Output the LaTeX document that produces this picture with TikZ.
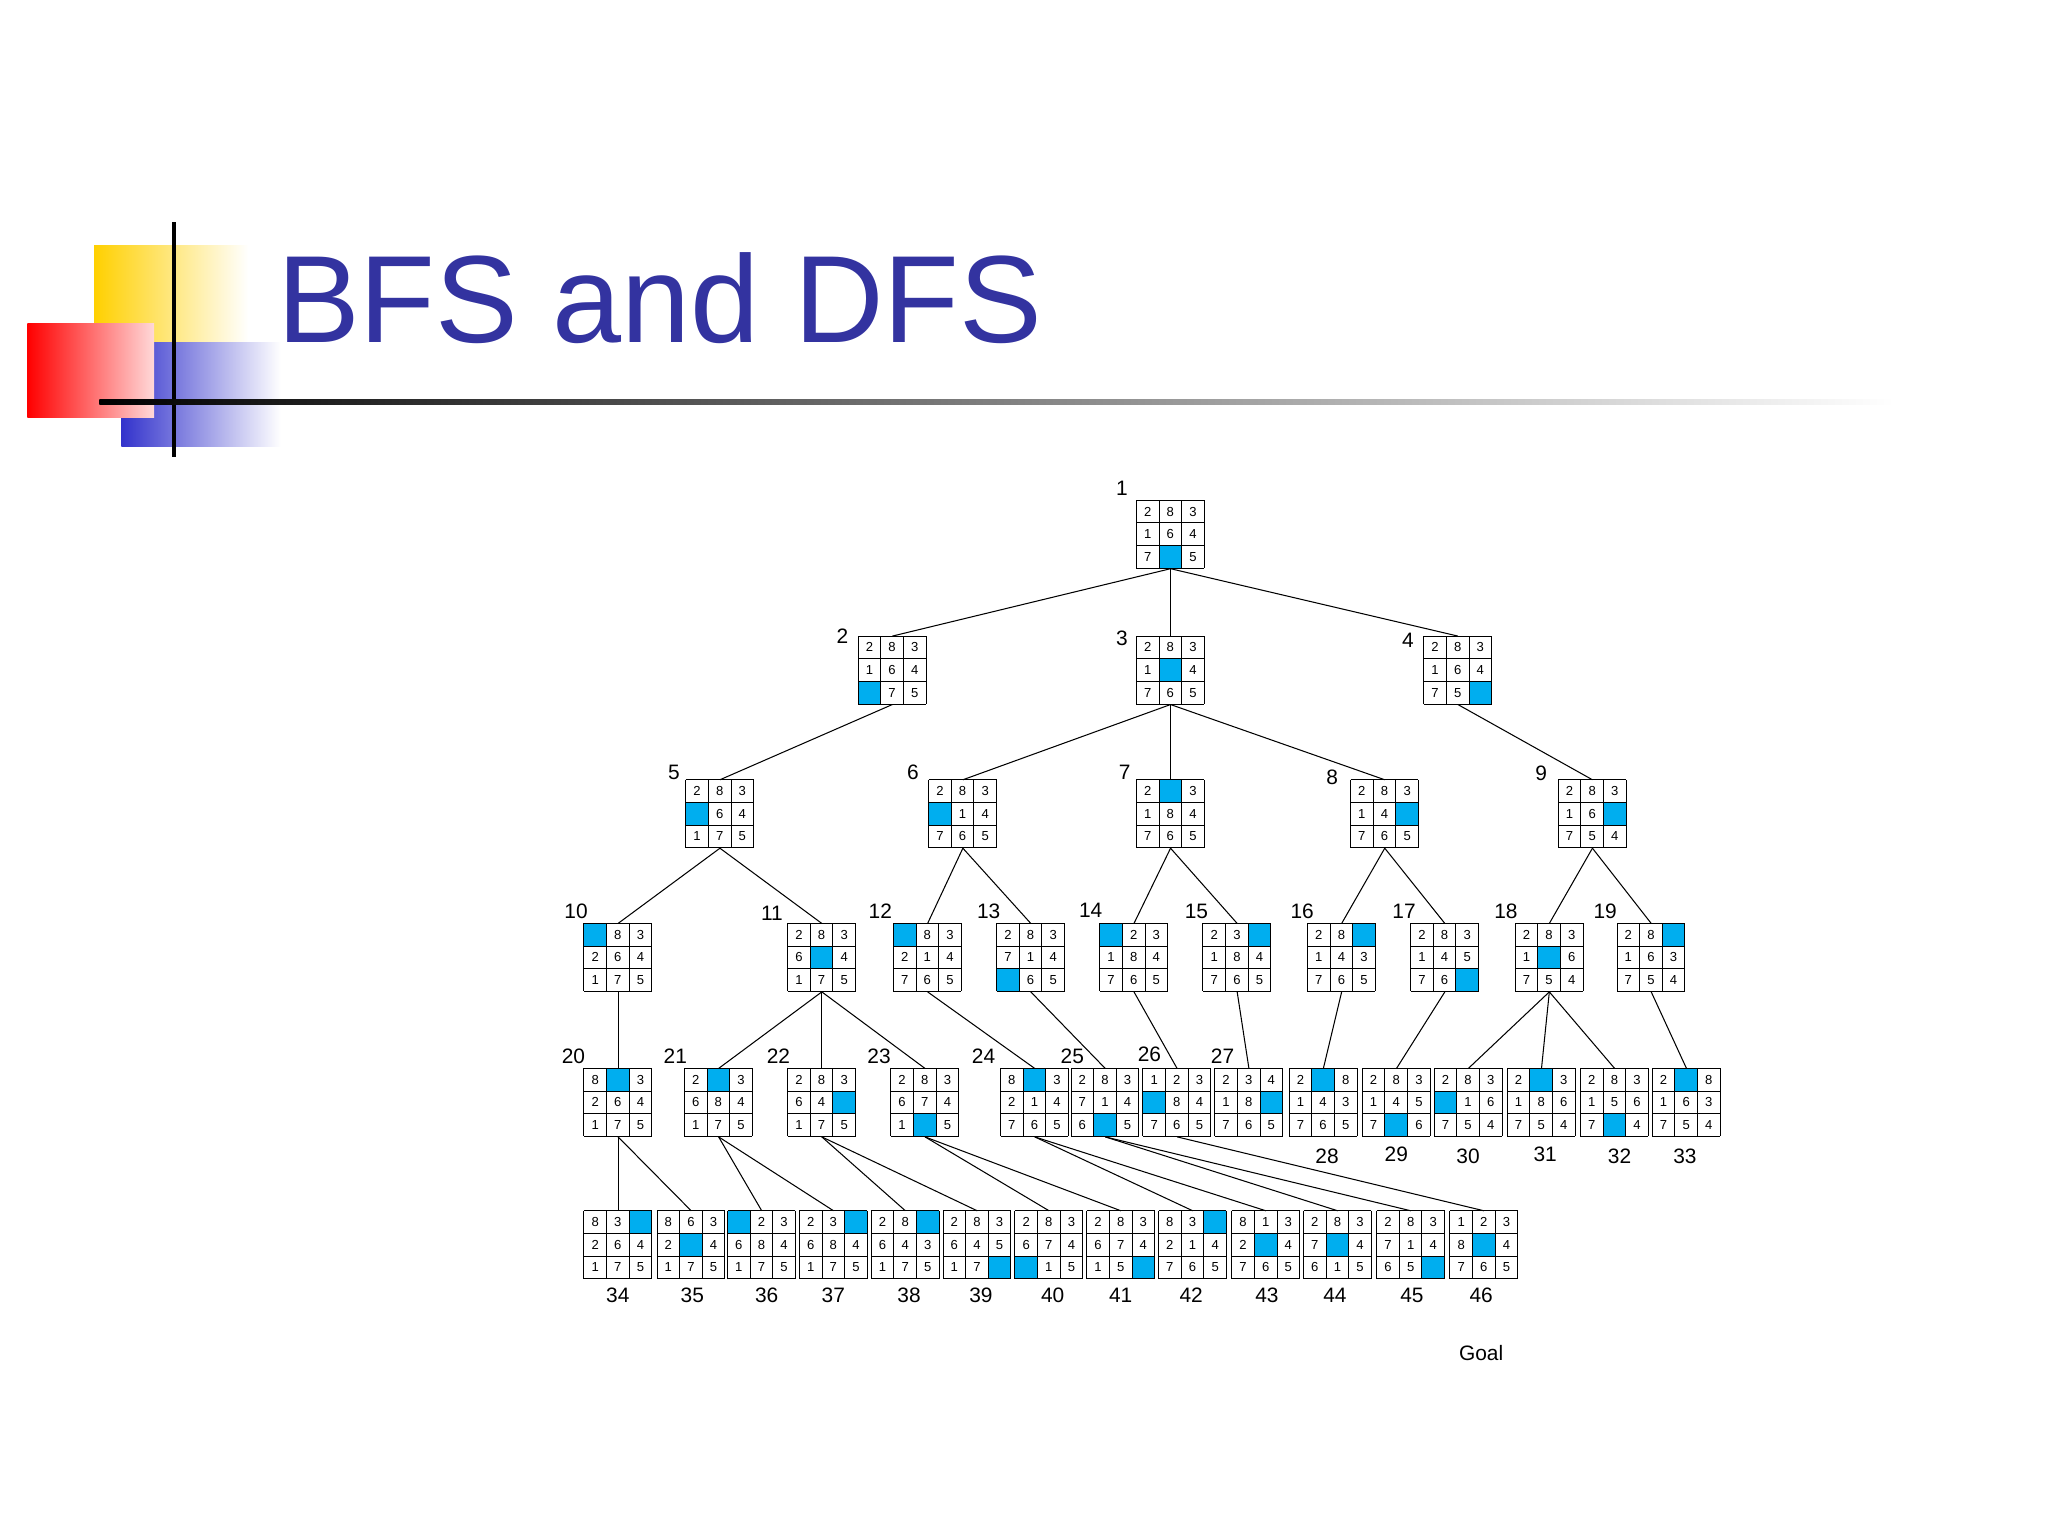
\documentclass[tikz,border=0pt]{standalone}
\usepackage{fontspec}
\setmainfont{Liberation Sans}
\definecolor{tileblue}{RGB}{0,174,239}
\definecolor{titleblue}{RGB}{51,51,160}
\definecolor{sqyellow}{RGB}{255,208,0}
\definecolor{sqblue}{RGB}{51,51,204}
\newcommand\bd[4]{%
 \node[minimum width=52pt,minimum height=52pt,inner sep=0pt,anchor=north west] (#1) at (#2,#3) {};
 \foreach \v [count=\i from 0] in {#4}{%
   \pgfmathtruncatemacro\cc{mod(\i,3)}\pgfmathtruncatemacro\rr{int(\i/3)}%
   \ifnum\v=0 \fill[tileblue] (#2+\cc*17.33,#3+\rr*17.33) rectangle ++(17.33,17.33);%
   \else \node[dig] at (#2+\cc*17.33+8.67,#3+\rr*17.33+8.67) {\v};\fi
 }
 \foreach \k in {0,1,2,3}{\draw[line width=0.7pt] (#2+\k*17.33,#3) -- ++(0,52); \draw[line width=0.7pt] (#2,#3+\k*17.33) -- ++(52,0);}
}
\begin{document}
\begin{tikzpicture}[x=1pt,y=-1pt,
  edge/.style={line width=0.8pt},
  lab/.style={font=\fontsize{16}{16}\selectfont,inner sep=0pt},
  dig/.style={font=\fontsize{10}{10}\selectfont,inner sep=0pt}]
\useasboundingbox (0,0) rectangle (1568,1176);
\fill[white] (0,0) rectangle (1568,1176);
% decoration
\shade[left color=sqyellow,right color=white] (72,188) rectangle (190,305);
\shade[left color=sqblue,right color=white] (93,262) rectangle (215,342);
\shade[left color=red,right color=red!15] (21,248) rectangle (118,320);
\draw[line width=3pt] (133,170) -- (133,350);
\shade[left color=black,middle color=gray,right color=white] (76,306) rectangle (1450,310);
\node[anchor=base west,text=titleblue,font=\fontsize{95}{100}\selectfont,inner sep=0pt] (title) at (212,262) {BFS and DFS};
% boards
\bd{n1}{870}{383}{2,8,3,1,6,4,7,0,5}
\bd{n2}{657}{487}{2,8,3,1,6,4,0,7,5}
\bd{n3}{870}{487}{2,8,3,1,0,4,7,6,5}
\bd{n4}{1090}{487}{2,8,3,1,6,4,7,5,0}
\bd{n5}{525}{597}{2,8,3,0,6,4,1,7,5}
\bd{n6}{711}{597}{2,8,3,0,1,4,7,6,5}
\bd{n7}{870}{597}{2,0,3,1,8,4,7,6,5}
\bd{n8}{1034}{597}{2,8,3,1,4,0,7,6,5}
\bd{n9}{1193}{597}{2,8,3,1,6,0,7,5,4}
\bd{n10}{447}{707}{0,8,3,2,6,4,1,7,5}
\bd{n11}{603}{707}{2,8,3,6,0,4,1,7,5}
\bd{n12}{684}{707}{0,8,3,2,1,4,7,6,5}
\bd{n13}{763}{707}{2,8,3,7,1,4,0,6,5}
\bd{n14}{842}{707}{0,2,3,1,8,4,7,6,5}
\bd{n15}{921}{707}{2,3,0,1,8,4,7,6,5}
\bd{n16}{1001}{707}{2,8,0,1,4,3,7,6,5}
\bd{n17}{1080}{707}{2,8,3,1,4,5,7,6,0}
\bd{n18}{1160}{707}{2,8,3,1,0,6,7,5,4}
\bd{n19}{1238}{707}{2,8,0,1,6,3,7,5,4}
\bd{n20}{447}{818}{8,0,3,2,6,4,1,7,5}
\bd{n21}{524}{818}{2,0,3,6,8,4,1,7,5}
\bd{n22}{603}{818}{2,8,3,6,4,0,1,7,5}
\bd{n23}{682}{818}{2,8,3,6,7,4,1,0,5}
\bd{n24}{766}{818}{8,0,3,2,1,4,7,6,5}
\bd{n25}{820}{818}{2,8,3,7,1,4,6,0,5}
\bd{n26}{875}{818}{1,2,3,0,8,4,7,6,5}
\bd{n27}{930}{818}{2,3,4,1,8,0,7,6,5}
\bd{n28}{987}{818}{2,0,8,1,4,3,7,6,5}
\bd{n29}{1043}{818}{2,8,3,1,4,5,7,0,6}
\bd{n30}{1098}{818}{2,8,3,0,1,6,7,5,4}
\bd{n31}{1154}{818}{2,0,3,1,8,6,7,5,4}
\bd{n32}{1210}{818}{2,8,3,1,5,6,7,0,4}
\bd{n33}{1265}{818}{2,0,8,1,6,3,7,5,4}
\bd{n34}{447}{927}{8,3,0,2,6,4,1,7,5}
\bd{n35}{503}{927}{8,6,3,2,0,4,1,7,5}
\bd{n36}{557}{927}{0,2,3,6,8,4,1,7,5}
\bd{n37}{612}{927}{2,3,0,6,8,4,1,7,5}
\bd{n38}{667}{927}{2,8,0,6,4,3,1,7,5}
\bd{n39}{722}{927}{2,8,3,6,4,5,1,7,0}
\bd{n40}{777}{927}{2,8,3,6,7,4,0,1,5}
\bd{n41}{832}{927}{2,8,3,6,7,4,1,5,0}
\bd{n42}{887}{927}{8,3,0,2,1,4,7,6,5}
\bd{n43}{943}{927}{8,1,3,2,0,4,7,6,5}
\bd{n44}{998}{927}{2,8,3,7,0,4,6,1,5}
\bd{n45}{1054}{927}{2,8,3,7,1,4,6,5,0}
\bd{n46}{1110}{927}{1,2,3,8,0,4,7,6,5}
% labels
\foreach \t/\x/\y in {1/859/374,2/645/487,3/859/489,4/1078/490,5/516/591,6/699/591,7/861/591,8/1020/595,9/1180/592,
 10/441/698,11/591/699,12/674/698,13/757/698,14/835/697,15/916/698,16/997/698,17/1075/698,18/1153/698,19/1229/698,
 20/439/809,21/517/809,22/596/809,23/673/809,24/753/809,25/821/809,26/880/807,27/936/809,
 28/1016/885,29/1069/884,30/1124/885,31/1183/884,32/1240/885,33/1290/885,
 34/473/992,35/530/992,36/587/992,37/638/992,38/696/992,39/751/992,40/806/992,41/858/992,42/912/992,43/970/992,44/1022/992,45/1081/992,46/1134/992}
 {\node[lab] (l\t) at (\x,\y) {\t};}
\node[lab] (goal) at (1134,1036) {Goal};
% edges
\foreach \p/\c in {1/2,1/3,1/4,2/5,3/6,3/7,3/8,4/9,5/10,5/11,6/12,6/13,7/14,7/15,8/16,8/17,9/18,9/19,
 10/20,11/21,11/22,11/23,12/24,13/25,14/26,15/27,16/28,17/29,18/30,18/31,18/32,19/33,
 20/34,20/35,21/36,21/37,22/38,22/39,23/40,23/41,24/42,24/43,25/44,25/45,26/46}
 {\draw[edge] (n\p.south) -- (n\c.north);}
\end{tikzpicture}
\end{document}
